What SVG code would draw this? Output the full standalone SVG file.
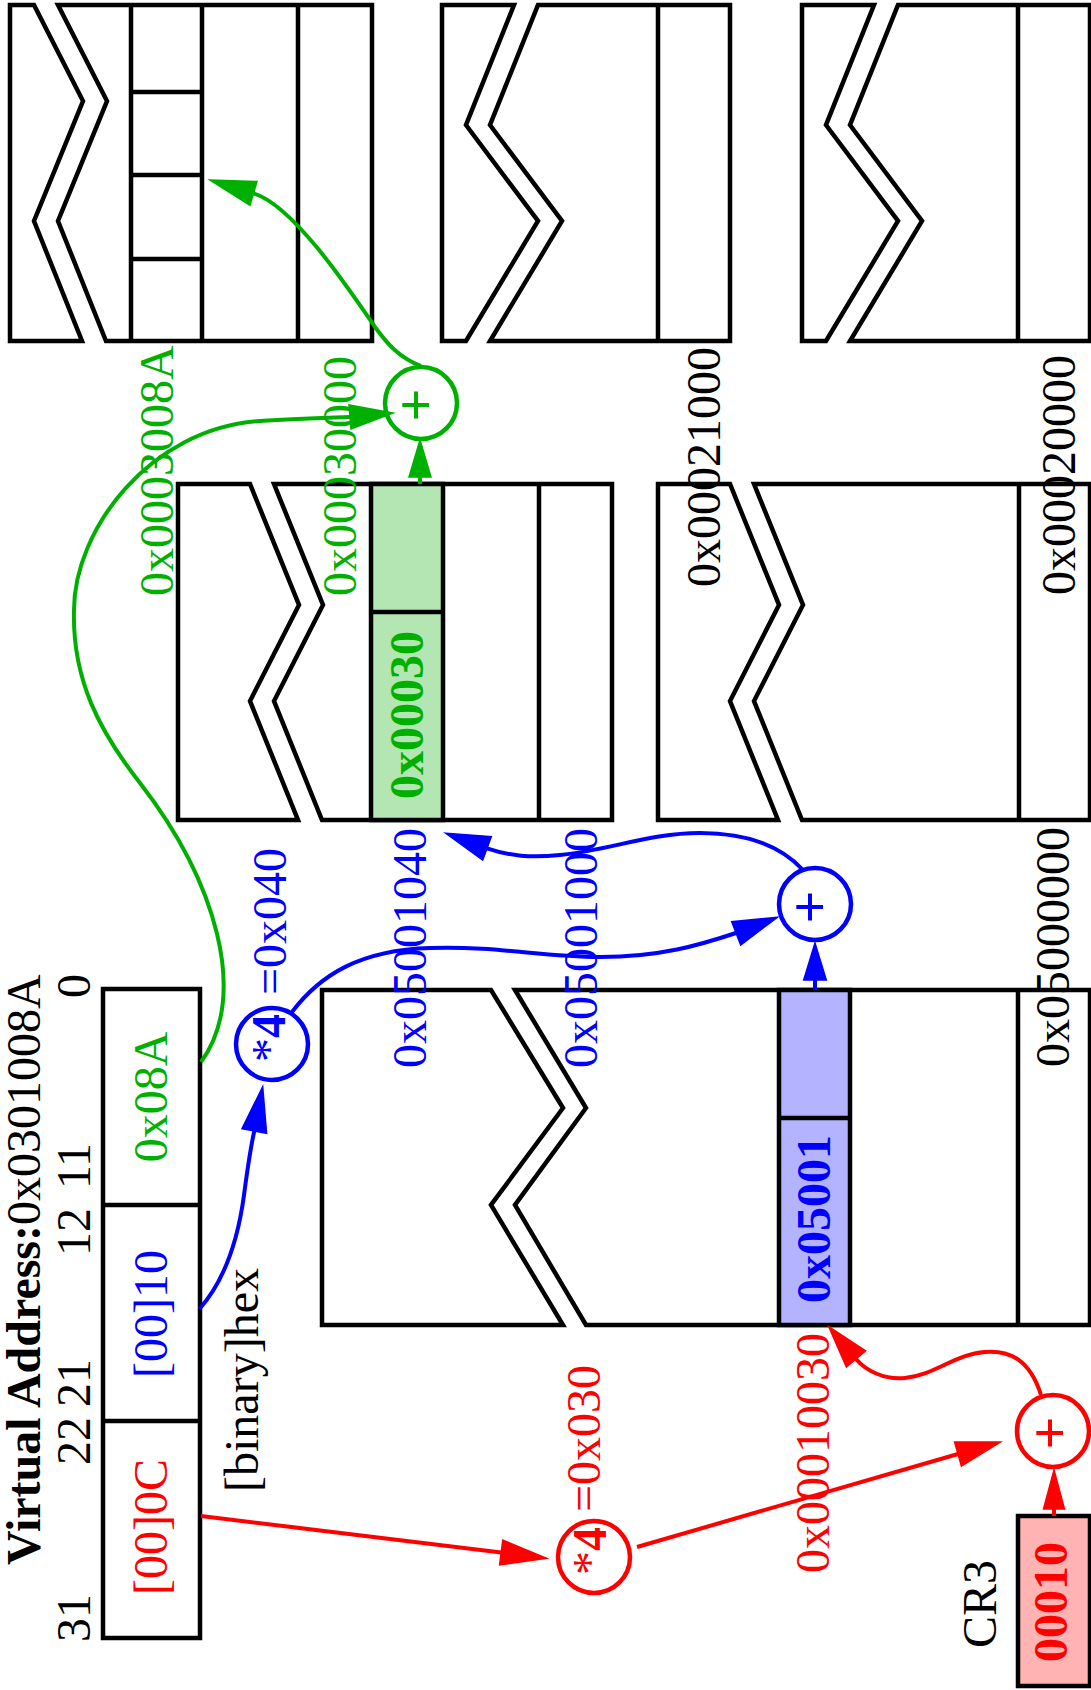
<svg xmlns="http://www.w3.org/2000/svg" width="1091" height="1690" viewBox="0 0 1091 1690">
<style>
text { font-family: "Liberation Serif", "Times New Roman", serif; font-size: 48px; }
.b { font-weight: bold; }
.m { text-anchor: middle; }
.plus { font-size: 58px; font-weight: bold; text-anchor: middle; }
.box { fill: #ffffff; stroke: #000000; stroke-width: 4.5; }
.ln { stroke: #000000; stroke-width: 4.5; fill: none; }
.tg { fill: #00b000; } .tb { fill: #0000ff; } .tr { fill: #ff0000; } .tk { fill: #000000; }
.cg { fill: #ffffff; stroke: #00b000; stroke-width: 4.5; }
.cb { fill: #ffffff; stroke: #0000ff; stroke-width: 4.5; }
.cr { fill: #ffffff; stroke: #ff0000; stroke-width: 4.5; }
.eg { fill: none; stroke: #00b000; stroke-width: 4; }
.eb { fill: none; stroke: #0000ff; stroke-width: 4; }
.er { fill: none; stroke: #ff0000; stroke-width: 4; }
.ag { fill: #00b000; stroke: #00b000; stroke-width: 1.5; }
.ab { fill: #0000ff; stroke: #0000ff; stroke-width: 1.5; }
.ar { fill: #ff0000; stroke: #ff0000; stroke-width: 1.5; }
</style>
<rect x="0" y="0" width="1091" height="1690" fill="#ffffff"/>

<g id="page_0x0003">
<polygon class="box" points="10,5 34,5 83,101 34,221 82,341 10,341"/>
<polygon class="box" points="58,5 372,5 372,341 106,341 58,221 107,101"/>
<path class="ln" d="M131,5V341M202,5V341M298,5V341M131,92H202M131,175H202M131,259H202"/>
</g>

<g id="page_0x0002_top">
<polygon class="box" points="442,5 514,5 466,125 538,221 466,341 442,341"/>
<polygon class="box" points="538,5 730,5 730,341 490,341 562,221 490,125"/>
<path class="ln" d="M658,5V341"/>
</g>

<g id="page_0x0001_top">
<polygon class="box" points="802,5 874,5 826,125 898,221 826,341 802,341"/>
<polygon class="box" points="898,5 1090,5 1090,341 850,341 922,221 850,125"/>
<path class="ln" d="M1018,5V341"/>
</g>

<g id="pagetable_0x05001">
<polygon class="box" points="178,484 250,484 299,605 250,701 298,820 178,820"/>
<polygon class="box" points="274,484 612,484 612,820 322,820 274,701 323,605"/>
<rect x="371" y="484" width="72" height="336" fill="#b3e6b3" stroke="#000000" stroke-width="4.5"/>
<path class="ln" d="M371,612H443M539,484V820"/>
<text class="b m tg" transform="translate(423,715) rotate(-90)">0x00030</text>
</g>

<g id="pagetable_0x05000">
<polygon class="box" points="658,484 730,484 779,605 730,701 778,820 658,820"/>
<polygon class="box" points="754,484 1090,484 1090,820 802,820 754,701 803,605"/>
<path class="ln" d="M1019,484V820"/>
</g>

<g id="pagedir_0x00010">
<polygon class="box" points="322,990 491,990 563,1108 491,1205 563,1325 322,1325"/>
<polygon class="box" points="515,990 1090,990 1090,1325 586,1325 515,1205 586,1108"/>
<rect x="779" y="990" width="71" height="335" fill="#b3b3ff" stroke="#000000" stroke-width="4.5"/>
<path class="ln" d="M779,1118H850M1018,990V1325"/>
<text class="b m tb" transform="translate(830,1219) rotate(-90)">0x05001</text>
</g>

<g id="vaddr">
<text class="tk" transform="translate(40,1565) rotate(-90)"><tspan class="b">Virtual Address:</tspan>0x0301008A</text>
<rect x="103" y="989" width="97" height="649" class="box"/>
<path class="ln" d="M103,1205H200M103,1421H200"/>
<text class="m tg" transform="translate(167,1097) rotate(-90)">0x08A</text>
<text class="m tb" transform="translate(167,1314) rotate(-90)">[00]10</text>
<text class="m tr" transform="translate(167,1527) rotate(-90)">[00]0C</text>
<text class="m tk" transform="translate(90,986) rotate(-90)">0</text>
<text class="m tk" transform="translate(90,1166) rotate(-90)">11</text>
<text class="m tk" transform="translate(90,1232) rotate(-90)">12</text>
<text class="m tk" transform="translate(90,1383) rotate(-90)">21</text>
<text class="m tk" transform="translate(90,1441) rotate(-90)">22</text>
<text class="m tk" transform="translate(90,1618) rotate(-90)">31</text>
<text class="m tk" transform="translate(258,1380) rotate(-90)">[binary]hex</text>
</g>

<g id="cr3">
<rect x="1018" y="1516" width="72" height="170" fill="#ffb3b3" stroke="#000000" stroke-width="4.5"/>
<text class="b m tr" transform="translate(1067,1602) rotate(-90)">00010</text>
<text class="m tk" transform="translate(996,1604) rotate(-90)">CR3</text>
</g>

<g id="mul_dir">
<circle class="cr" cx="594" cy="1557" r="36"/>
<text class="m tr" transform="translate(606,1551) rotate(-90)">*<tspan class="b">4</tspan></text>
<text class="tr" transform="translate(600,1512) rotate(-90)">=0x030</text>
</g>

<g id="mul_table">
<circle class="cb" cx="272" cy="1044" r="36"/>
<text class="m tb" transform="translate(285,1038) rotate(-90)">*<tspan class="b">4</tspan></text>
<text class="tb" transform="translate(286,995) rotate(-90)">=0x040</text>
</g>

<g id="add_dir">
<circle class="cr" cx="1053" cy="1431" r="36"/>
<text class="plus tr" transform="translate(1069,1433) rotate(-90)">+</text>
</g>

<g id="add_table">
<circle class="cb" cx="815" cy="904" r="36"/>
<text class="plus tb" transform="translate(829,907) rotate(-90)">+</text>
</g>

<g id="add_page">
<circle class="cg" cx="421" cy="403" r="36"/>
<text class="plus tg" transform="translate(435,405) rotate(-90)">+</text>
</g>

<g id="addr_labels">
<text class="tg" transform="translate(173,596) rotate(-90)">0x0003008A</text>
<text class="tg" transform="translate(356,596) rotate(-90)">0x00030000</text>
<text class="tk" transform="translate(720,587) rotate(-90)">0x00021000</text>
<text class="tk" transform="translate(1075,595) rotate(-90)">0x00020000</text>
<text class="tb" transform="translate(426,1068) rotate(-90)">0x05001040</text>
<text class="tb" transform="translate(597,1068) rotate(-90)">0x05001000</text>
<text class="tk" transform="translate(1069,1067) rotate(-90)">0x05000000</text>
<text class="tr" transform="translate(829,1573) rotate(-90)">0x00010030</text>
</g>

<g id="connectors">
<path class="eg" d="M420,484V477"/>
<polygon class="ag" points="420,440 409,477 431,477"/>
<path class="eg" d="M201,1062C250,995 215,880 140,783C100,732 72,680 74,610C74,530 150,428 260,421C290,419 320,418 350,417"/>
<polygon class="ag" points="393,413 351,429 349,405"/>
<path class="eg" d="M421,366C400,358 388,345 375,327C345,283 292,205 253.5,193.3"/>
<polygon class="ag" points="210,180 257,181.5 250,205.3"/>

<path class="eb" d="M199.5,1309C225,1280 238,1240 244,1195C248,1165 250,1150 254.3,1131"/>
<polygon class="ab" points="262.7,1086.7 266.6,1133.3 242,1128.7"/>
<path class="eb" d="M292,1012C320,975 360,950 430,948C500,946 540,957 600,957C660,957 700,945 736,933"/>
<polygon class="ab" points="777.3,917.3 740.7,945 731.7,921.7"/>
<path class="eb" d="M815,990V980"/>
<polygon class="ab" points="815,943 803.7,980 826.3,980"/>
<path class="eb" d="M803,870C780,845 745,833 700,833C650,833 610,850 560,855C530,858 510,856 487,848.3"/>
<polygon class="ab" points="445.7,833.3 491.3,836.6 482.7,860"/>

<path class="er" d="M201,1516L501.2,1552.5"/>
<polygon class="ar" points="546.7,1558.3 499.6,1564.9 502.8,1540.1"/>
<path class="er" d="M637,1547L958,1454"/>
<polygon class="ar" points="1000.3,1442 961.4,1466 954.6,1442"/>
<path class="er" d="M1054,1516V1509"/>
<polygon class="ar" points="1054,1470 1043.5,1509 1064.5,1509"/>
<path class="er" d="M1041,1395C1030,1360 1010,1350 985,1352C955,1354 935,1375 905,1378C885,1380 866,1371 856,1359"/>
<polygon class="ar" points="828.8,1326.7 865.6,1350.9 846.4,1367.1"/>
</g>
</svg>
